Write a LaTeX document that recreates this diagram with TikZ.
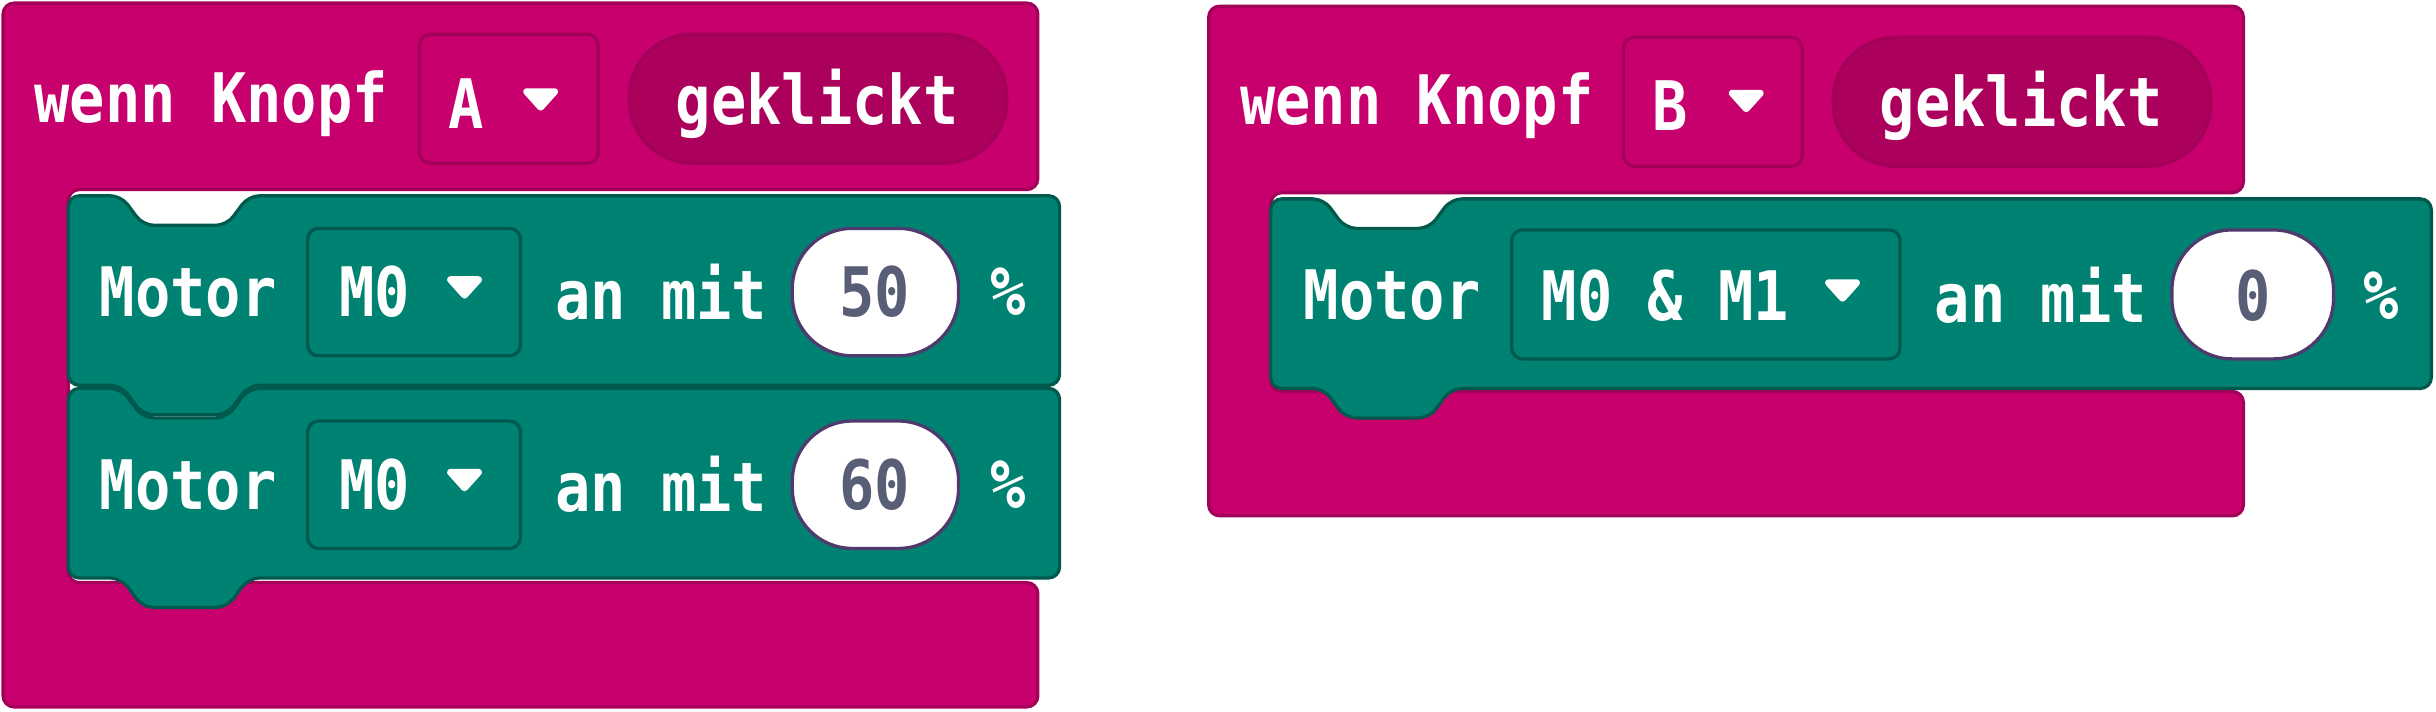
\documentclass[tikz,border=0pt]{standalone}
\usepackage{fontspec}
\setmonofont{DejaVu Sans Mono}
\definecolor{mag}{HTML}{C8006E}
\definecolor{magd}{HTML}{A3005A}
\definecolor{pill}{HTML}{AB005B}
\definecolor{grn}{HTML}{008272}
\definecolor{grnd}{HTML}{00594D}
\definecolor{numc}{HTML}{575E75}
\definecolor{ovb}{HTML}{4F3A6E}
\begin{document}
\begin{tikzpicture}[x=0.02cm,y=-0.02cm,
  txt/.style={font=\ttfamily\bfseries\fontsize{25}{28}\selectfont,text=white,inner sep=0,xscale=0.86},
  hat/.style={fill=mag,draw=magd,line width=1.2pt,rounded corners=4pt},
  blk/.style={fill=grn,draw=grnd,line width=1.2pt,rounded corners=4pt},
  dd/.style={draw=#1,line width=1.2pt,rounded corners=4pt},
  tri/.style={fill=white,draw=white,line join=round,line width=2.5pt}]
\useasboundingbox (0,0) rectangle (1568,458);
% ---------- left
\path[hat] (2,2)--(668,2)--(668,122)--(44,122)--(44,375)--(668,375)--(668,455)--(2,455)--cycle;
\draw[dd=magd] (270,22) rectangle (385,105);
\node[txt,anchor=west] (wk1) at (22,67) {wenn Knopf};
\node[txt] (a) at (300,67) {A};
\draw[tri] (339,59)--(357,59)--(348,69)--cycle;
\draw[fill=pill,draw=magd,line width=1.2pt,rounded corners=23pt] (405,22) rectangle (648,105);
\node[txt] (gk1) at (526,67) {geklickt};
\foreach \dy/\num [count=\i] in {0/50,124/60}{
\begin{scope}[yshift=-\dy*0.02cm]
\path[blk] (44,126)--(78,126)--(92,145)--(146,145)--(160,126)--(682,126)--(682,248)--(160,248)--(146,267)--(92,267)--(78,248)--(44,248)--cycle;
\draw[dd=grnd] (198,147) rectangle (335,229);
\node[txt,anchor=west] (mot\i) at (64,188) {Motor};
\node[txt] (m\i) at (241,188) {M0};
\draw[tri] (290,180)--(308,180)--(299,190)--cycle;
\node[txt,anchor=west] (an\i) at (357,188) {an mit};
\draw[fill=white,draw=ovb,line width=1.2pt,rounded corners=22pt] (510,147) rectangle (617,229);
\node[txt,text=numc] (n\i) at (563,188) {\num};
\node[txt] (p\i) at (649,188) {\%};
\end{scope}}
% ---------- right
\path[hat] (778,4)--(1444,4)--(1444,124)--(818,124)--(818,252)--(1444,252)--(1444,332)--(778,332)--cycle;
\draw[dd=magd] (1045,24) rectangle (1160,107);
\node[txt,anchor=west] (wk2) at (798,68) {wenn Knopf};
\node[txt] (b) at (1075,68) {B};
\draw[tri] (1115,60)--(1133,60)--(1124,70)--cycle;
\draw[fill=pill,draw=magd,line width=1.2pt,rounded corners=23pt] (1180,24) rectangle (1423,107);
\node[txt] (gk2) at (1301,68) {geklickt};
\path[blk] (818,128)--(852,128)--(866,147)--(920,147)--(934,128)--(1565,128)--(1565,250)--(934,250)--(920,269)--(866,269)--(852,250)--(818,250)--cycle;
\draw[dd=grnd] (973,148) rectangle (1223,231);
\node[txt,anchor=west] (mot3) at (839,190) {Motor};
\node[txt] (m3) at (1072,190) {M0 \& M1};
\draw[tri] (1177,182)--(1195,182)--(1186,192)--cycle;
\node[txt,anchor=west] (an3) at (1245,190) {an mit};
\draw[fill=white,draw=ovb,line width=1.2pt,rounded corners=22pt] (1398,148) rectangle (1502,231);
\node[txt,text=numc] (n3) at (1450,190) {0};
\node[txt] (p3) at (1533,190) {\%};
\end{tikzpicture}
\end{document}
